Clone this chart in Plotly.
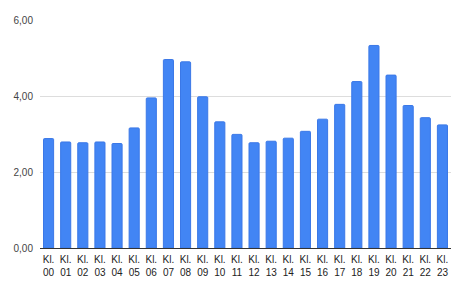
import plotly.graph_objects as go

categories = ["Kl.<br>%02d" % h for h in range(24)]
values = [2.88, 2.79, 2.77, 2.79, 2.75, 3.16, 3.95, 4.96, 4.90, 3.98, 3.32, 2.99,
          2.77, 2.81, 2.89, 3.07, 3.39, 3.78, 4.38, 5.33, 4.55, 3.75, 3.43, 3.24]
y_ticks = [0, 2, 4, 6]

fig = go.Figure(go.Bar(
    x=categories, y=values,
    marker=dict(color="#4285F4", line=dict(color="#3B78E7", width=1), cornerradius=1),
))

fig.update_layout(
    width=468, height=289,
    margin=dict(l=40, r=17, t=20, b=41),
    paper_bgcolor="white", plot_bgcolor="white",
    separators=",.",
    bargap=0.41,
    font=dict(family="Liberation Sans, Arial, sans-serif", size=10, color="#444444"),
    showlegend=False,
)
fig.update_xaxes(
    showgrid=False, showline=True, linecolor="#333333", linewidth=1,
    tickfont=dict(size=10, color="#222222"), ticks="", ticklabelstandoff=2,
)
fig.update_yaxes(
    range=[0, 6], tickvals=y_ticks, tickformat=".2f",
    showgrid=True, gridcolor="#DDDDDD", gridwidth=1, zeroline=False,
    tickfont=dict(size=10, color="#444444"), ticklabelstandoff=6,
)

fig.write_html("out.html")
